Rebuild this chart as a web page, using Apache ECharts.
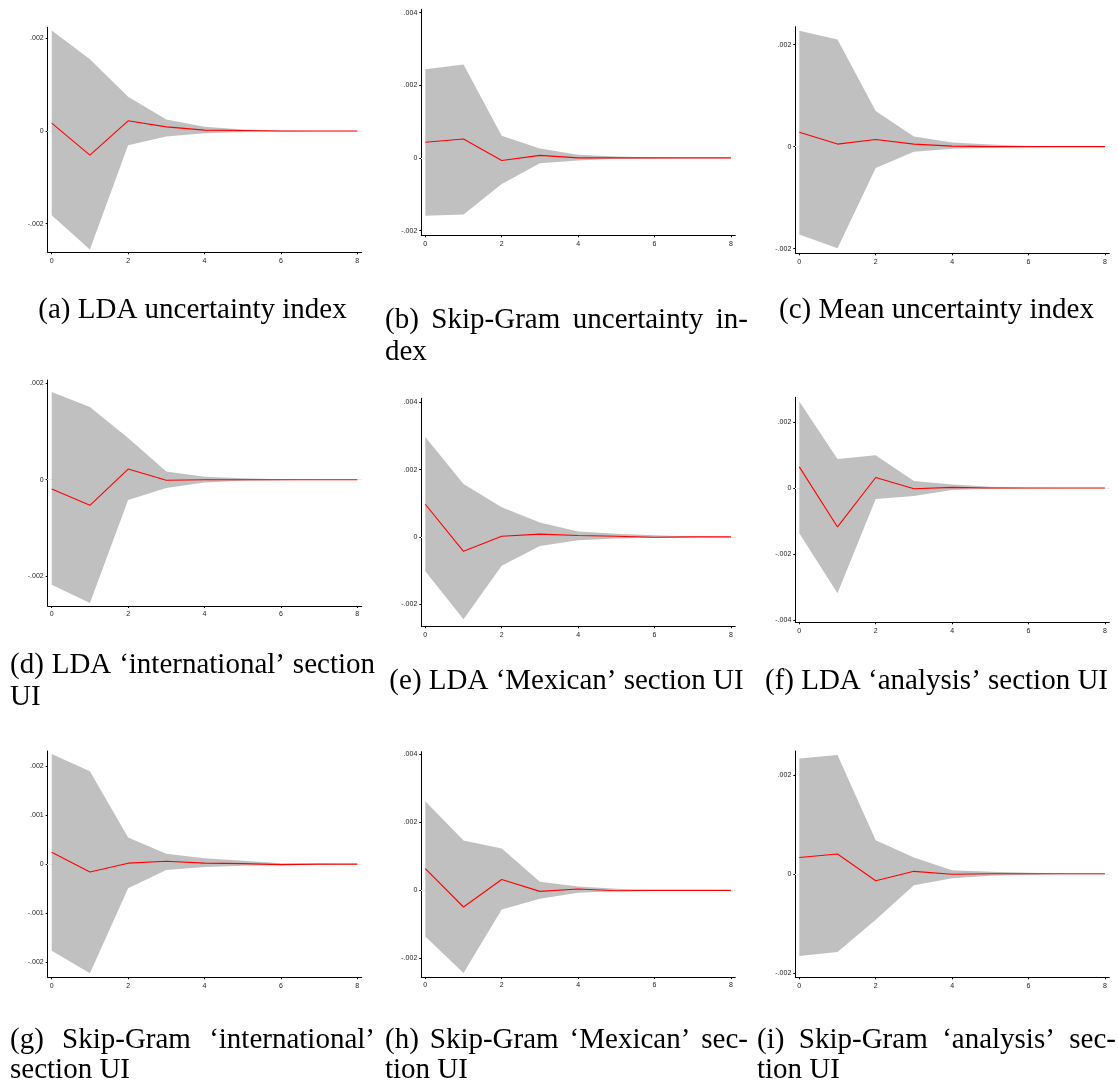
<!DOCTYPE html>
<html>
<head>
<meta charset="utf-8">
<script src="https://cdn.jsdelivr.net/npm/echarts@6/dist/echarts.min.js"></script>
<style>
html,body{margin:0;padding:0;background:#ffffff;}
#chart{width:1118px;height:1082px;}
</style>
</head>
<body>
<div id="chart"></div>
<script>
// ---------- data ----------
const horizon = [0, 1, 2, 3, 4, 5, 6, 7, 8];
const xTicks = [0, 2, 4, 6, 8];

const irfA = [0.00017, -0.00052, 0.00022, 0.00009, 0.00002, 0.00001, 0, 0, 0];
const upA  = [0.00217, 0.00155, 0.00074, 0.00025, 0.00009, 0.00003, 0.00001, 0, 0];
const loA  = [-0.00182, -0.00256, -0.00031, -0.00012, -0.00005, -0.00002, -0.00001, 0, 0];

const irfB = [0.00043, 0.00052, -0.00007, 0.00007, 0.00000, 0, 0, 0, 0];
const upB  = [0.00244, 0.00257, 0.00061, 0.00026, 0.00009, 0.00004, 0.00001, 0, 0];
const loB  = [-0.00159, -0.00156, -0.00072, -0.00015, -0.00007, -0.00002, -0.00001, 0, 0];

const irfC = [0.00028, 0.00005, 0.00014, 0.00005, 0.00001, 0, 0, 0, 0];
const upC  = [0.00227, 0.00210, 0.00070, 0.00020, 0.00008, 0.00004, 0.00001, 0, 0];
const loC  = [-0.00172, -0.00199, -0.00042, -0.00010, -0.00004, -0.00002, -0.00001, 0, 0];

const irfD = [-0.00019, -0.00053, 0.00022, -0.00001, 0, 0, 0, 0, 0];
const upD  = [0.00181, 0.00150, 0.00086, 0.00017, 0.00006, 0.00003, 0.00001, 0, 0];
const loD  = [-0.00217, -0.00255, -0.00042, -0.00017, -0.00006, -0.00002, -0.00001, 0, 0];

const irfE = [0.00097, -0.00043, 0.00002, 0.00008, 0.00004, 0.00002, -0.00001, 0, 0];
const upE  = [0.00297, 0.00157, 0.00088, 0.00043, 0.00016, 0.00009, 0.00005, 0.00001, 0];
const loE  = [-0.00102, -0.00245, -0.00086, -0.00027, -0.00010, -0.00005, -0.00002, -0.00001, 0];

const irfF = [0.00064, -0.00118, 0.00032, -0.00002, 0.00002, 0, 0, 0, 0];
const upF  = [0.00262, 0.00088, 0.00099, 0.00021, 0.00011, 0.00004, 0.00001, 0, 0];
const loF  = [-0.00137, -0.00319, -0.00033, -0.00024, -0.00006, -0.00002, -0.00001, 0, 0];

const irfG = [0.00024, -0.00016, 0.00002, 0.00006, 0.00002, 0.00001, -0.00001, 0, 0];
const upG  = [0.00224, 0.00189, 0.00054, 0.00021, 0.00012, 0.00007, 0.00002, 0.00001, 0];
const loG  = [-0.00176, -0.00222, -0.00049, -0.00012, -0.00006, -0.00003, -0.00002, -0.00001, 0];

const irfH = [0.00064, -0.00049, 0.00032, -0.00003, 0.00004, -0.00001, 0, 0, 0];
const upH  = [0.00262, 0.00147, 0.00123, 0.00025, 0.00011, 0.00005, 0.00001, 0, 0];
const loH  = [-0.00136, -0.00243, -0.00056, -0.00025, -0.00007, -0.00003, -0.00001, 0, 0];

const irfI = [0.00033, 0.00040, -0.00014, 0.00005, -0.00001, 0, 0, 0, 0];
const upI  = [0.00233, 0.00240, 0.00068, 0.00033, 0.00007, 0.00004, 0.00002, 0, 0];
const loI  = [-0.00166, -0.00158, -0.00093, -0.00023, -0.00009, -0.00004, -0.00002, 0, 0];

const yTicksA = [-0.002, 0, 0.002];
const yTicksB = [-0.002, 0, 0.002, 0.004];
const yTicksC = [-0.002, 0, 0.002];
const yTicksD = [-0.002, 0, 0.002];
const yTicksE = [-0.002, 0, 0.002, 0.004];
const yTicksF = [-0.004, -0.002, 0, 0.002];
const yTicksG = [-0.002, -0.001, 0, 0.001, 0.002];
const yTicksH = [-0.002, 0, 0.002, 0.004];
const yTicksI = [-0.002, 0, 0.002];

const captions = [
  ["(a) LDA uncertainty index"],
  ["(b) Skip-Gram uncertainty in-", "dex"],
  ["(c) Mean uncertainty index"],
  ["(d) LDA \u2018international\u2019 section", "UI"],
  ["(e) LDA \u2018Mexican\u2019 section UI"],
  ["(f) LDA \u2018analysis\u2019 section UI"],
  ["(g) Skip-Gram \u2018international\u2019", "section UI"],
  ["(h) Skip-Gram \u2018Mexican\u2019 sec-", "tion UI"],
  ["(i) Skip-Gram \u2018analysis\u2019 sec-", "tion UI"]
];

// ---------- layout ----------
const gridBoxes = [
  [47.7, 27.3, 314, 225.0],
  [421.3, 9.3, 314, 226.0],
  [795.3, 26.7, 314, 226.6],
  [47.7, 380.0, 314, 226.0],
  [421.3, 398.3, 314, 228.0],
  [795.3, 397.3, 314, 225.0],
  [47.7, 751.0, 314, 226.3],
  [421.3, 751.7, 314, 225.3],
  [795.3, 751.0, 314, 226.3]
];
const yRanges = [
  [-0.00262, 0.00224],
  [-0.00213, 0.00409],
  [-0.00209, 0.00235],
  [-0.00261, 0.00206],
  [-0.00266, 0.00412],
  [-0.00407, 0.00275],
  [-0.00230, 0.00230],
  [-0.00255, 0.00408],
  [-0.00209, 0.00248]
];
const xRange = [-0.105, 8.115];
const captionCols = [[10, 375], [385, 748], [757, 1116]];
const captionRows = [
  [[310], [320, 352], [310]],
  [[665, 697], [681], [681]],
  [[1040, 1070], [1040, 1070], [1040, 1070]]
];

const panels = [
  [irfA, upA, loA, yTicksA],
  [irfB, upB, loB, yTicksB],
  [irfC, upC, loC, yTicksC],
  [irfD, upD, loD, yTicksD],
  [irfE, upE, loE, yTicksE],
  [irfF, upF, loF, yTicksF],
  [irfG, upG, loG, yTicksG],
  [irfH, upH, loH, yTicksH],
  [irfI, upI, loI, yTicksI]
];

// ---------- build ----------
function fmtY(v) {
  if (Math.abs(v) < 1e-12) return '0';
  const s = String(Math.abs(v)).replace(/^0/, '');
  return (v < 0 ? '-' : '') + s;
}

const grids = [], xAxes = [], yAxes = [], series = [];
const tickFont = { fontSize: 7, color: '#222', fontFamily: '"Liberation Sans", Arial, sans-serif' };

panels.forEach((p, i) => {
  const [irf, up, lo, yTicks] = p;
  const b = gridBoxes[i];
  grids.push({ left: b[0], top: b[1], width: b[2], height: b[3], containLabel: false, outerBoundsMode: 'none' });
  xAxes.push({
    type: 'value', gridIndex: i, min: xRange[0], max: xRange[1],
    axisLine: { show: true, onZero: false, lineStyle: { color: '#000', width: 1 } },
    axisTick: { show: true, customValues: xTicks, length: 2, lineStyle: { color: '#000', width: 1 } },
    axisLabel: Object.assign({ customValues: xTicks, margin: 5, formatter: v => String(v) }, tickFont),
    splitLine: { show: false }
  });
  yAxes.push({
    type: 'value', gridIndex: i, min: yRanges[i][0], max: yRanges[i][1],
    axisLine: { show: true, onZero: false, lineStyle: { color: '#000', width: 1 } },
    axisTick: { show: true, customValues: yTicks, length: 2, lineStyle: { color: '#000', width: 1 } },
    axisLabel: Object.assign({ customValues: yTicks, margin: 4, formatter: fmtY }, tickFont),
    splitLine: { show: false }
  });
  // gridlines (carried by an invisible copy of the lower bound)
  series.push({
    type: 'line', xAxisIndex: i, yAxisIndex: i,
    data: horizon.map((h, k) => [h, lo[k]]), symbol: 'none', silent: true, z: 1,
    lineStyle: { width: 0, opacity: 0 },
    markLine: {
      z: 1, silent: true, symbol: 'none', animation: false, label: { show: false },
      lineStyle: { color: '#e4eeee', width: 1, type: 'solid' },
      data: yTicks.map(v => ({ yAxis: v }))
    }
  });
  // confidence band polygon
  series.push({
    type: 'custom', xAxisIndex: i, yAxisIndex: i, z: 2, silent: true,
    data: [[0, 0]],
    renderItem: function (params, api) {
      const pts = [];
      for (let k = 0; k < horizon.length; k++) pts.push(api.coord([horizon[k], up[k]]));
      for (let k = horizon.length - 1; k >= 0; k--) pts.push(api.coord([horizon[k], lo[k]]));
      return { type: 'polygon', shape: { points: pts }, style: { fill: '#c0c0c0', stroke: null } };
    }
  });
  // impulse response
  series.push({
    type: 'line', xAxisIndex: i, yAxisIndex: i,
    data: horizon.map((h, k) => [h, irf[k]]), symbol: 'none', silent: true, z: 3,
    lineStyle: { color: '#ff0000', width: 1.1 }
  });
});

// captions
const capFont = '29px "Liberation Serif", "Times New Roman", serif';
const mctx = document.createElement('canvas').getContext('2d');
function tw(s) { mctx.font = capFont; return mctx.measureText(s).width; }
const graphics = [];
function addText(s, x, y, align) {
  graphics.push({ type: 'text', x: x, y: y, silent: true,
    style: { text: s, font: capFont, fill: '#000', align: align || 'left', verticalAlign: 'middle' } });
}
function justify(s, x0, x1, y) {
  const words = s.split(' ');
  const widths = words.map(tw);
  const total = widths.reduce((a, c) => a + c, 0);
  const gap = (x1 - x0 - total) / (words.length - 1);
  let x = x0;
  words.forEach((w, k) => { addText(w, x, y, 'left'); x += widths[k] + gap; });
}
captions.forEach((lines, i) => {
  const col = captionCols[i % 3];
  const ys = captionRows[Math.floor(i / 3)][i % 3];
  if (lines.length === 1) {
    addText(lines[0], (col[0] + col[1]) / 2, ys[0], 'center');
  } else {
    justify(lines[0], col[0], col[1], ys[0]);
    addText(lines[1], col[0], ys[1], 'left');
  }
});

const chart = echarts.init(document.getElementById('chart'), null, { renderer: 'canvas' });
chart.setOption({
  backgroundColor: '#ffffff',
  animation: false,
  grid: grids,
  xAxis: xAxes,
  yAxis: yAxes,
  series: series,
  graphic: graphics
});
</script>
</body>
</html>
